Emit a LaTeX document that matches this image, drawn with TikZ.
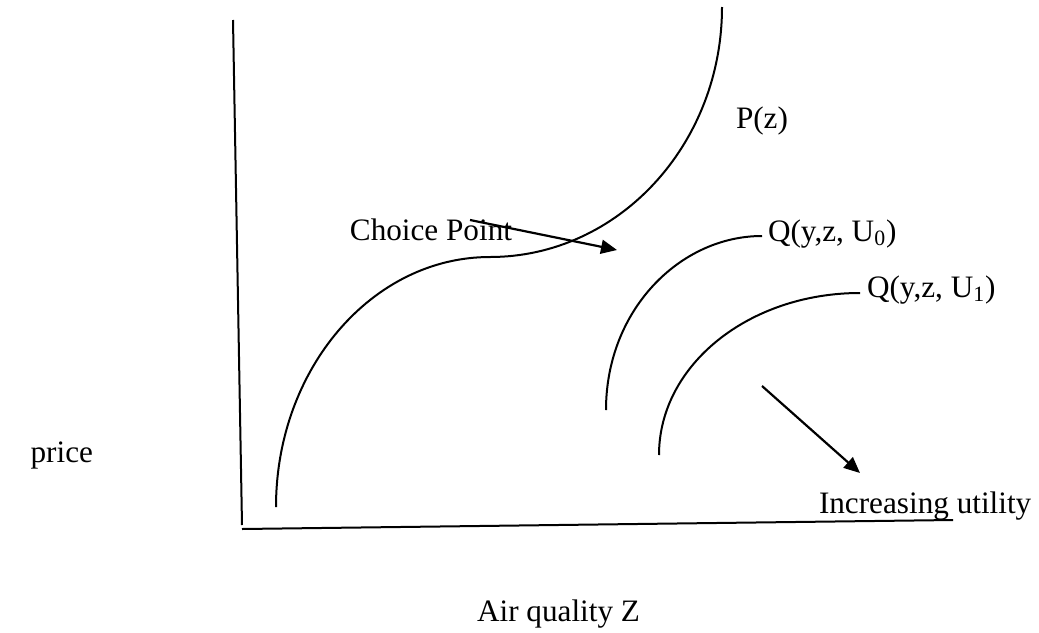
\documentclass[tikz,border=0pt]{standalone}
\usepackage{fontspec}
\setmainfont{Liberation Serif}
\usetikzlibrary{arrows.meta, positioning}

\begin{document}
\begin{tikzpicture}[
    x=0.5pt, y=-0.5pt,
    line width=1pt,
    node font=\fontsize{15.6}{18}\selectfont,
    lbl/.style={inner sep=0pt, anchor=base west},
    pointer/.style={-{Triangle[length=8pt, width=7pt]}, line width=1.1pt}
]
  \useasboundingbox (0,0) rectangle (1039,632);

  % --- AXES ---
  \coordinate (ytop) at (233,20);
  \coordinate (ybot) at (242,525);
  \coordinate (xleft) at (242,529);
  \coordinate (xright) at (953,520);
  \draw (ytop) -- (ybot);
  \draw (xleft) -- (xright);

  \node[lbl, anchor=base east] (price) at (94,462) {price};
  \node[lbl, anchor=base east] (airq) at (641,621) {Air quality Z};

  % --- PRICE SCHEDULE P(z) ---
  \draw (276,507) .. controls (276,369) and (372,257) .. (490,257)
                  .. controls (618,257) and (722,145) .. (722,7);
  \node[lbl] (pz) at (735,128) {P(z)};

  % --- BID CURVES ---
  \coordinate (qzero-start) at (606,410);
  \coordinate (qzero-end) at (762,236);
  \node[lbl] (qzero) at (767,241) {Q(y,z, U\textsubscript{0})};
  \draw (qzero-start) .. controls (606,310) and (680,236) .. (qzero-end);

  \coordinate (qone-start) at (659,455);
  \coordinate (qone-end) at (860,293);
  \node[lbl] (qone) at (866,297) {Q(y,z, U\textsubscript{1})};
  \draw (qone-start) .. controls (659,365) and (749,293) .. (qone-end);

  % --- ARROWS ---
  \node[lbl, anchor=base east] (choice) at (513,240) {Choice Point};
  \coordinate (cp-tail) at (470,220);
  \coordinate (cp-head) at (617,250);
  \draw[pointer] (cp-tail) -- (cp-head);

  \node[lbl] (incr) at (818,513) {Increasing utility};
  \coordinate (iu-tail) at (762,386);
  \coordinate (iu-head) at (860,473);
  \draw[pointer] (iu-tail) -- (iu-head);

\end{tikzpicture}
\end{document}
